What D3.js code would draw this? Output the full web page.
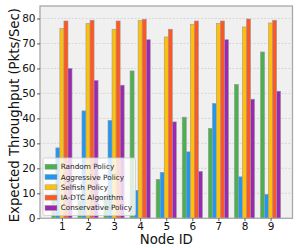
<!DOCTYPE html>
<html>
<head>
<meta charset="utf-8">
<script src="https://cdn.jsdelivr.net/npm/d3@7"></script>
<style>
  body { margin: 0; background: #fff; }
  svg { display: block; font-family: "DejaVu Sans", sans-serif; }
</style>
</head>
<body>
<div id="chart"></div>
<script>
// Node IDs on the x axis
const nodes = [1, 2, 3, 4, 5, 6, 7, 8, 9];
const policies = ["Random Policy", "Aggressive Policy", "Selfish Policy", "IA-DTC Algorithm", "Conservative Policy"];
const policyColors = ["#4caf50", "#2196f3", "#ffc107", "#ff5722", "#9c27b0"];

// throughput per node
const randomVals = [10, 7, 9, 59, 15.6, 40.5, 36, 53.6, 66.6];
const aggressiveVals = [28.2, 43, 39.2, 11.2, 18.4, 26.6, 46, 16.6, 9.6];
const selfishVals = [76, 78, 75.7, 79.2, 72.6, 77.7, 78, 76.6, 78.2];
const iadtcVals = [79, 79.3, 79, 79.7, 75.7, 79, 79, 79.8, 79.3];
const conservativeVals = [60, 55.2, 53.3, 71.5, 38.6, 18.8, 71.5, 47.7, 50.9];
const yTicks = [0, 10, 20, 30, 40, 50, 60, 70, 80];

const series = [randomVals, aggressiveVals, selfishVals, iadtcVals, conservativeVals];

const width = 300, height = 248;
const margin = {top: 6, right: 7.5, bottom: 29.7, left: 40};
const plotW = width - margin.left - margin.right;
const plotH = height - margin.top - margin.bottom;
const barW = 0.155;

const svg = d3.select("#chart").append("svg")
    .attr("width", width)
    .attr("height", height);

const g = svg.append("g")
    .attr("transform", `translate(${margin.left},${margin.top})`);

const x = d3.scaleLinear().domain([0.16, 9.84]).range([0, plotW]);
const y = d3.scaleLinear().domain([0, 85]).range([plotH, 0]);

// plot background
g.append("rect")
    .attr("width", plotW)
    .attr("height", plotH)
    .attr("fill", "#f0f0f0");

// dashed horizontal grid
g.selectAll(".grid")
    .data(yTicks.slice(1))
    .enter()
    .append("line")
    .attr("x1", 0)
    .attr("x2", plotW)
    .attr("y1", d => y(d))
    .attr("y2", d => y(d))
    .attr("stroke", "#cfcfcf")
    .attr("stroke-width", 0.8)
    .attr("stroke-dasharray", "2,1.5");

// bars
series.forEach((vals, si) => {
    g.selectAll(".bar-" + si)
        .data(vals)
        .enter()
        .append("rect")
        .attr("x", (d, i) => x(nodes[i] + (si - 2.5) * barW))
        .attr("y", d => y(d))
        .attr("width", x(barW) - x(0))
        .attr("height", d => y(0) - y(d))
        .attr("fill", policyColors[si])
        .attr("stroke", "#9a9a9a")
        .attr("stroke-width", 0.6);
});

// spines
g.append("rect")
    .attr("width", plotW)
    .attr("height", plotH)
    .attr("fill", "none")
    .attr("stroke", "#a8a8a8")
    .attr("stroke-width", 1.3);

// axes
const xAxis = g.append("g")
    .attr("transform", `translate(0,${plotH})`)
    .call(d3.axisBottom(x).tickValues(nodes).tickSize(3).tickPadding(1.5));
const yAxis = g.append("g")
    .call(d3.axisLeft(y).tickValues(yTicks).tickSize(3).tickPadding(1.5));

[xAxis, yAxis].forEach(a => {
    a.select(".domain").remove();
    a.selectAll(".tick line").attr("stroke", "#333").attr("stroke-width", 0.8);
    a.selectAll("text")
        .style("font-size", "10.5px")
        .style("fill", "#111")
        .style("font-family", "DejaVu Sans");
});

// axis labels
svg.append("text")
    .attr("x", margin.left + plotW / 2)
    .attr("y", 244)
    .attr("text-anchor", "middle")
    .style("font-size", "13.3px")
    .style("fill", "#111")
    .text("Node ID");

svg.append("text")
    .attr("transform", `translate(18.5,${margin.top + plotH / 2 + 3}) rotate(-90)`)
    .attr("text-anchor", "middle")
    .style("font-size", "13.3px")
    .style("fill", "#111")
    .text("Expected Throughput (Pkts/Sec)");

// legend
const legend = svg.append("g")
    .attr("transform", "translate(43,158)");

legend.append("rect")
    .attr("width", 92.5)
    .attr("height", 57.5)
    .attr("rx", 1.5)
    .attr("fill", "#fff")
    .attr("fill-opacity", 0.8)
    .attr("stroke", "#cccccc")
    .attr("stroke-width", 0.8);

policies.forEach((p, i) => {
    const row = legend.append("g")
        .attr("transform", `translate(2, ${8.7 + i * 10.3})`);
    row.append("rect")
        .attr("y", -2.5)
        .attr("width", 12)
        .attr("height", 5)
        .attr("fill", policyColors[i])
        .attr("stroke", "#9a9a9a")
        .attr("stroke-width", 0.5);
    row.append("text")
        .attr("x", 15.7)
        .attr("y", 2.5)
        .style("font-size", "7.3px")
        .style("fill", "#222")
        .text(p);
});
</script>
</body>
</html>
